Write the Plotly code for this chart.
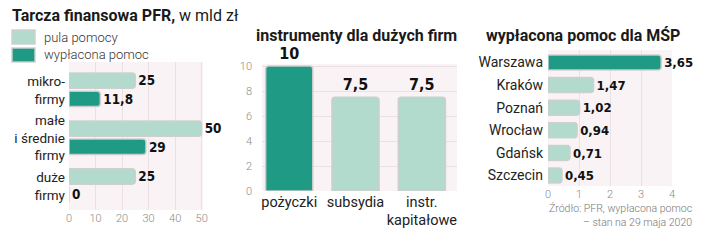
import plotly.graph_objects as go

W, H = 720, 244

# ---- data ----
firm_categories = ["mikro-<br>firmy", "małe<br>i średnie<br>firmy", "duże<br>firmy"]
pula_pomocy = [25, 50, 25]
wyplacona_pomoc = [11.8, 29, 0]

instr_categories = ["pożyczki", "subsydia", "instr.<br>kapitałowe"]
instr_values = [10, 7.5, 7.5]

cities = ["Warszawa", "Kraków", "Poznań", "Wrocław", "Gdańsk", "Szczecin"]
city_values = [3.65, 1.47, 1.02, 0.94, 0.71, 0.45]

left_ticks = [0, 10, 20, 30, 40, 50]
mid_ticks = [0, 2, 4, 6, 8, 10]
right_ticks = [0, 1, 2, 3, 4]

DARK = "#1f9a84"
LIGHT = "#b3dbcd"
BORDER = "rgba(205,205,205,0.95)"
BG = "#faf3f5"
GRID = "#ebe1e4"
NUMFONT = "DejaVu Sans Condensed, Roboto, sans-serif"
LBLFONT = "Roboto, sans-serif"


def fmt(v):
    s = f"{v:g}"
    return s.replace(".", ",")


def px(x):
    return x / W


def py(y):
    return 1 - y / H


fig = go.Figure()

bar_common = dict(marker_line_color=BORDER, marker_line_width=1.5, marker_cornerradius=3,
                  textposition="outside", cliponaxis=False,
                  textfont=dict(family=NUMFONT, size=14, color="#111", weight="bold"))

fig.add_trace(go.Bar(y=firm_categories, x=pula_pomocy, orientation="h", marker_color=LIGHT,
                     width=0.32, offset=-0.36, text=[fmt(v) for v in pula_pomocy],
                     xaxis="x", yaxis="y", **bar_common))
fig.add_trace(go.Bar(y=firm_categories, x=wyplacona_pomoc, orientation="h", marker_color=DARK,
                     width=0.32, offset=0.02, text=[fmt(v) for v in wyplacona_pomoc],
                     xaxis="x", yaxis="y", **bar_common))

mid_common = dict(bar_common)
mid_common["textfont"] = dict(family=NUMFONT, size=16, color="#111", weight="bold")
fig.add_trace(go.Bar(x=instr_categories, y=instr_values, marker_color=[DARK, LIGHT, LIGHT],
                     width=0.71, text=[fmt(v) for v in instr_values],
                     xaxis="x2", yaxis="y2", **mid_common))

fig.add_trace(go.Bar(y=cities, x=city_values, orientation="h",
                     marker_color=[DARK] + [LIGHT] * (len(cities) - 1),
                     width=0.66, text=[fmt(v) for v in city_values],
                     xaxis="x3", yaxis="y3", **bar_common))

tickfont_num = dict(family=LBLFONT, size=11, color="#8a8a8a", weight=300)
catfont = dict(family=LBLFONT, size=14, color="#222")

fig.update_layout(
    width=W, height=H, margin=dict(l=0, r=0, t=0, b=0, autoexpand=False),
    paper_bgcolor="white", plot_bgcolor=BG, showlegend=False,
    barmode="overlay",
    xaxis=dict(domain=[px(69), px(203)], range=[0, 50.5], tickvals=left_ticks,
               showgrid=True, gridcolor=GRID, zeroline=False, showline=False,
               tickfont=tickfont_num, anchor="y", automargin=False, tickangle=0),
    yaxis=dict(domain=[py(210), py(62)], type="category", categoryarray=firm_categories,
               range=[2.5, -0.59], showgrid=False, zeroline=False, tickfont=dict(catfont, size=13.5),
               ticklabelstandoff=3, anchor="x", automargin=False),
    xaxis2=dict(domain=[px(262), px(457)], type="category", range=[-0.41, 2.53],
                showgrid=False, zeroline=False, tickfont=dict(catfont, size=14.5), anchor="y2",
                automargin=False, tickangle=0),
    yaxis2=dict(domain=[py(191), py(64)], range=[0, 10.16], tickvals=mid_ticks,
                showgrid=True, gridcolor=GRID, zeroline=False, tickfont=tickfont_num,
                ticklabelstandoff=9, anchor="x2", automargin=False),
    xaxis3=dict(domain=[px(548), px(672)], range=[0, 4], tickvals=right_ticks,
                showgrid=True, gridcolor=GRID, zeroline=False, tickfont=tickfont_num, anchor="y3",
                automargin=False, tickangle=0),
    yaxis3=dict(domain=[py(186), py(50)], type="category", categoryarray=cities,
                range=[5.46, -0.55], showgrid=False, zeroline=False, tickfont=catfont,
                ticklabelstandoff=4, anchor="x3", automargin=False),
)

annotations = [
    dict(x=px(10), y=py(16), xanchor="left", yanchor="middle",
         text="<b>Tarcza finansowa PFR,</b> w mld zł",
         font=dict(family=LBLFONT, size=16, color="#1a1a1a")),
    dict(x=px(42), y=py(37), xanchor="left", yanchor="middle", text="pula pomocy",
         font=dict(family=LBLFONT, size=13, color="#333", weight=300)),
    dict(x=px(42), y=py(55), xanchor="left", yanchor="middle", text="wypłacona pomoc",
         font=dict(family=LBLFONT, size=13, color="#333", weight=300)),
    dict(x=px(356), y=py(35), xanchor="center", yanchor="middle",
         text="<b>instrumenty dla dużych firm</b>",
         font=dict(family=LBLFONT, size=16, color="#1a1a1a")),
    dict(x=px(583), y=py(35), xanchor="center", yanchor="middle",
         text="<b>wypłacona pomoc dla MŚP</b>",
         font=dict(family=LBLFONT, size=16, color="#1a1a1a")),
    dict(x=px(694), y=py(215), xanchor="right", yanchor="middle", align="right",
         text="Źródło: PFR, wypłacona pomoc<br>– stan na 29 maja 2020",
         font=dict(family=LBLFONT, size=10.5, color="#777", weight=300)),
]
for a in annotations:
    a.update(xref="paper", yref="paper", showarrow=False)
fig.update_layout(annotations=annotations)

shapes = []
for (y0, y1, c) in [(30, 44, LIGHT), (48, 62, DARK)]:
    shapes.append(dict(type="rect", xref="paper", yref="paper",
                       x0=px(12), x1=px(35), y0=py(y1), y1=py(y0),
                       fillcolor=c, line=dict(color=BORDER, width=1.5)))
fig.update_layout(shapes=shapes)

fig.write_html("out.html")
